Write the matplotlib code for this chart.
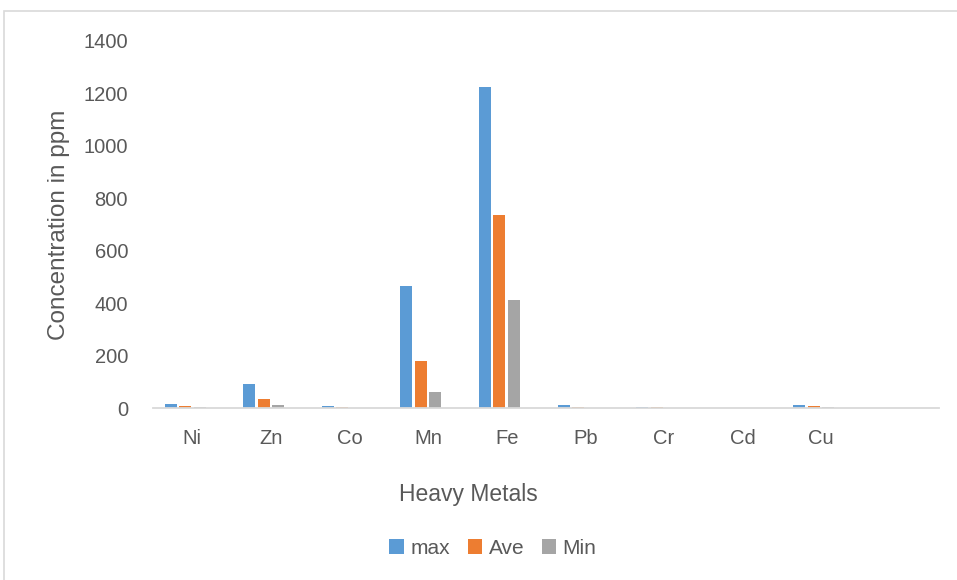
import matplotlib.pyplot as plt
import numpy as np
from matplotlib.patches import Rectangle

# heavy metal concentrations (ppm); last slot is an empty category
metals = ['Ni', 'Zn', 'Co', 'Mn', 'Fe', 'Pb', 'Cr', 'Cd', 'Cu', '']
max_vals = [14, 90, 8, 465, 1224, 11, 5, 0.5, 11, 0]
ave_vals = [8, 34, 4, 179, 736, 4, 3, 0.3, 7, 0]
min_vals = [3, 10, 1, 61, 411, 1, 0.5, 0.1, 2, 0]
series_names = ['max', 'Ave', 'Min']
colors = ['#5B9BD5', '#ED7D31', '#A5A5A5']
yticks = [0, 200, 400, 600, 800, 1000, 1200, 1400]

plt.rcParams['font.family'] = ['Liberation Sans', 'DejaVu Sans']

fig = plt.figure(figsize=(9.57, 5.8), dpi=100)
ax = fig.add_axes([153 / 957, 1 - 408 / 580, (939 - 153) / 957, (408 - 41) / 580])

x = np.arange(len(metals))
slot = 0.184
width = 0.153
# excel-style cluster with 4 slots (4th one empty)
for k, (name, vals, c) in enumerate(zip(series_names, [max_vals, ave_vals, min_vals], colors)):
    ax.bar(x + (k - 1.5) * slot, vals, width=width, color=c, label=name, zorder=2)

ax.set_xlim(-0.5, len(metals) - 0.5)
ax.set_ylim(0, 1400)
ax.set_yticks(yticks)
ax.set_xticks(x)
ax.set_xticklabels(metals)

for s in ['top', 'right', 'left']:
    ax.spines[s].set_visible(False)
ax.spines['bottom'].set_color('#d9d9d9')
ax.spines['bottom'].set_linewidth(1.3)

ax.tick_params(axis='y', length=0, pad=18, labelsize=14.5, labelcolor='#595959')
ax.tick_params(axis='x', length=0, pad=15, labelsize=14.5, labelcolor='#595959')

ax.set_ylabel('Concentration in ppm', fontsize=17.5, color='#595959', va='center')
ax.yaxis.set_label_coords(59 / 957, 1 - 225 / 580, transform=fig.transFigure)
ax.set_xlabel('Heavy Metals', fontsize=16.5, color='#595959', va='center')
ax.xaxis.set_label_coords(468 / 957, 1 - 494 / 580, transform=fig.transFigure)

leg = ax.legend(loc='center', bbox_to_anchor=(493 / 957, 1 - 548 / 580),
                bbox_transform=fig.transFigure, ncol=3, frameon=False,
                fontsize=15, handlelength=0.7, handleheight=0.7,
                handletextpad=0.3, columnspacing=0.85)
for t in leg.get_texts():
    t.set_color('#595959')

# light chart frame
fig.patches.append(Rectangle((4 / 957, -0.1), 1.2, 1 - 11 / 580 + 0.1,
                             transform=fig.transFigure, fill=False,
                             edgecolor='#d9d9d9', linewidth=1.2))

fig.savefig('out.png', dpi=100)
